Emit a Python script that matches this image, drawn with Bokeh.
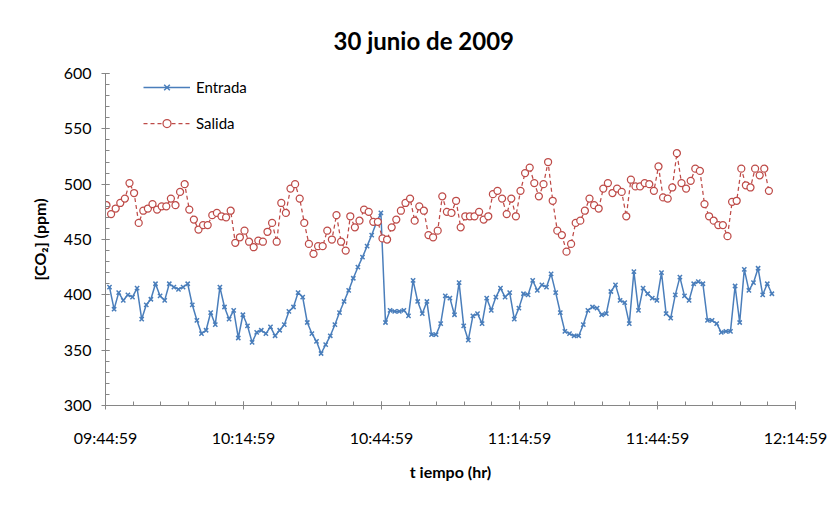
import pandas as pd
from bokeh.plotting import figure
from bokeh.models import (FixedTicker, DatetimeTickFormatter, Legend, LegendItem,
                          Range1d)
from bokeh.embed import file_html
from bokeh.resources import INLINE

# CO2 readings, one per minute (ppm)
entrada = [407, 387, 402, 395, 400, 398, 406, 378, 391, 396,
           410, 399, 395, 410, 407, 405, 407, 410, 391, 377,
           365, 368, 384, 373, 407, 389, 378, 386, 361, 382,
           372, 357, 366, 368, 365, 371, 363, 368, 373, 385,
           389, 402, 398, 375, 365, 358, 347, 355, 363, 373,
           384, 394, 404, 415, 425, 434, 444, 454, 465, 474,
           375, 386, 385, 385, 386, 381, 413, 394, 383, 394,
           364, 364, 374, 399, 397, 382, 411, 372, 359, 381,
           383, 374, 397, 386, 398, 406, 398, 402, 378, 388,
           401, 400, 413, 404, 409, 407, 419, 402, 384, 367,
           365, 363, 363, 373, 386, 389, 388, 382, 383, 403,
           409, 395, 393, 374, 421, 386, 406, 401, 397, 395,
           420, 383, 379, 400, 416, 399, 395, 410, 412, 410,
           377, 377, 374, 366, 367, 367, 408, 375, 423, 404,
           411, 424, 400, 410, 401]

salida = [481, 473, 478, 483, 487, 501, 492, 465, 476, 478,
          482, 477, 480, 480, 487, 481, 493, 500, 477, 468,
          459, 463, 463, 472, 474, 471, 470, 476, 447, 452,
          458, 448, 443, 449, 448, 457, 465, 448, 483, 474,
          496, 500, 487, 465, 446, 437, 444, 444, 458, 450,
          472, 448, 440, 471, 461, 467, 477, 475, 466, 466,
          451, 450, 461, 468, 476, 483, 487, 467, 480, 476,
          454, 452, 458, 489, 475, 474, 485, 461, 471, 471,
          471, 475, 468, 471, 491, 494, 487, 473, 487, 471,
          494, 510, 515, 501, 489, 500, 520, 485, 458, 454,
          439, 446, 465, 467, 476, 487, 481, 478, 496, 501,
          492, 496, 493, 471, 504, 498, 498, 501, 500, 494,
          516, 488, 487, 497, 528, 501, 496, 503, 514, 512,
          482, 471, 467, 463, 463, 453, 484, 485, 514, 499,
          497, 514, 508, 514, 494]

entrada_start = "2009-06-30 09:45:51"
salida_start = "2009-06-30 09:45:12"
sample_interval = "1min"

axis_start = "2009-06-30 09:44:59"
axis_end = "2009-06-30 12:14:59"
tick_labels = ["09:44:59", "10:14:59", "10:44:59", "11:14:59", "11:44:59", "12:14:59"]

t_entrada = pd.date_range(entrada_start, periods=len(entrada), freq=sample_interval)
t_salida = pd.date_range(salida_start, periods=len(salida), freq=sample_interval)

EPOCH = pd.Timestamp("1970-01-01")


def to_ms(ts):
    return (pd.Timestamp(ts) - EPOCH).total_seconds() * 1000.0


x0, x1 = to_ms(axis_start), to_ms(axis_end)
major = [x0 + i * 30 * 60000 for i in range(len(tick_labels))]
minor = [x0 + i * 6 * 60000 for i in range(int((x1 - x0) / 360000) + 1)]

FONT = "Lato"
BLUE = "#4a7ebb"
RED = "#be4b48"
AXIS_GREY = "#868686"

p = figure(width=840, height=505, x_axis_type="datetime",
           output_backend="svg", toolbar_location=None,
           x_range=Range1d(x0, x1), y_range=Range1d(300, 600),
           min_border_left=105, min_border_right=45,
           min_border_top=73, min_border_bottom=100)
p.outline_line_color = None
p.xgrid.visible = False
p.ygrid.visible = False

# chart title, placed over the middle of the whole chart area
p.title.text = "30 junio de 2009"
p.title.align = "left"
p.title.offset = 228
p.title.standoff = 37
p.title.text_font = FONT
p.title.text_font_style = "bold"
p.title.text_font_size = "24px"
p.title.text_color = "#000000"

# series
le = p.line(t_entrada, entrada, line_color=BLUE, line_width=1.5)
se = p.scatter(t_entrada, entrada, marker="x", size=6, line_color=BLUE, line_width=1.5)
ls = p.line(t_salida, salida, line_color=RED, line_width=1.25, line_dash="4 3")
ss = p.scatter(t_salida, salida, marker="circle", size=7, line_color=RED,
               line_width=1.25, fill_color="white")

# axes
xa = p.xaxis[0]
xa.ticker = FixedTicker(ticks=major, minor_ticks=minor)
fmt = "%H:%M:%S"
xa.formatter = DatetimeTickFormatter(seconds=fmt, minsec=fmt, minutes=fmt,
                                     hourmin=fmt, hours=fmt, days=fmt)
xa.axis_label = "t iempo (hr)"
ya = p.yaxis[0]
ya.ticker = FixedTicker(ticks=list(range(300, 601, 50)),
                        minor_ticks=list(range(300, 601, 10)))
ya.axis_label = "[CO₂] (ppm)"

for ax in (xa, ya):
    ax.axis_line_color = AXIS_GREY
    ax.major_tick_line_color = AXIS_GREY
    ax.minor_tick_line_color = AXIS_GREY
    ax.major_tick_in = 4
    ax.major_tick_out = 4
    ax.minor_tick_in = 4
    ax.minor_tick_out = 0
    ax.major_label_text_font = FONT
    ax.major_label_text_font_size = "16px"
    ax.major_label_text_color = "#000000"
    ax.axis_label_text_font = FONT
    ax.axis_label_text_font_style = "bold"
    ax.axis_label_text_font_size = "16px"
    ax.axis_label_text_color = "#000000"

xa.major_label_standoff = 18
xa.axis_label_standoff = 12
ya.major_label_standoff = 10
ya.axis_label_standoff = 12

legend = Legend(items=[LegendItem(label="Entrada", renderers=[le, se]),
                       LegendItem(label="Salida", renderers=[ls, ss])],
                location=(38, 272), border_line_color=None,
                background_fill_alpha=0, label_text_font=FONT,
                label_text_font_size="15px", label_text_color="#000000",
                glyph_width=47, glyph_height=20, label_height=20,
                spacing=16, padding=6, margin=0, label_standoff=6)
p.add_layout(legend)

open("out.html", "w").write(file_html(p, INLINE))
